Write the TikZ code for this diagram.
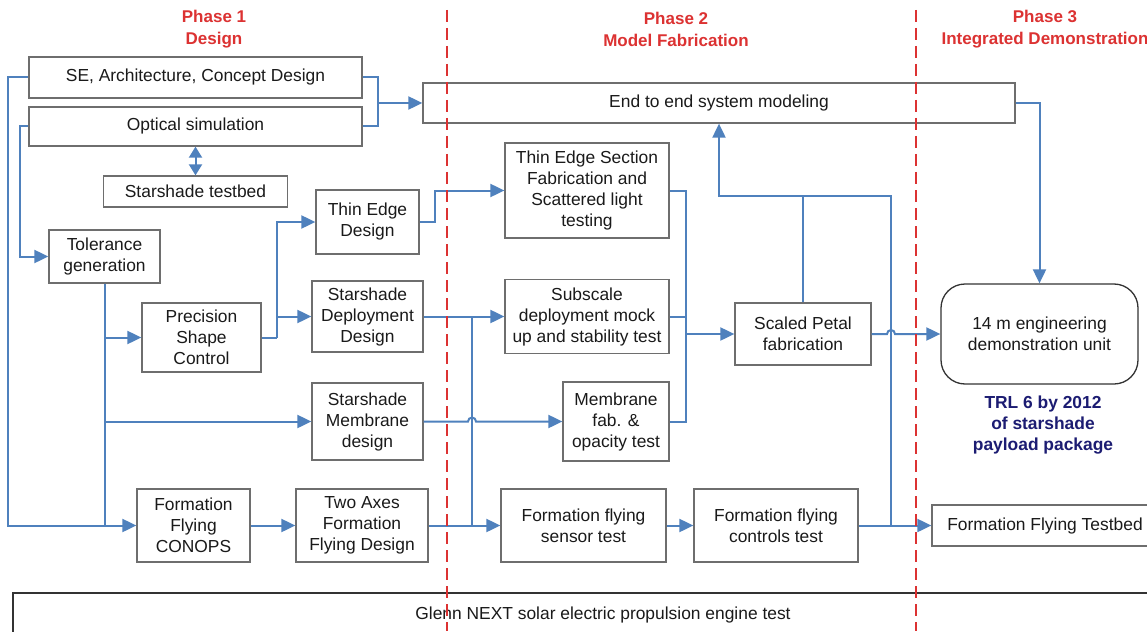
\documentclass[tikz,border=0pt]{standalone}
\usepackage{fontspec}
\setmainfont{Liberation Sans}
\usetikzlibrary{arrows.meta}
\definecolor{Tok}{HTML}{4F81BD}
\definecolor{Okvir}{HTML}{6E6E6E}
\definecolor{Faza}{HTML}{DC3232}
\definecolor{Cilj}{HTML}{1C1C72}
\definecolor{Tekst}{HTML}{1A1A1A}
\tikzset{
  kutija/.style   = {rectangle, draw=Okvir, line width=1.3pt, fill=white,
                     text=Tekst, align=center, inner sep=0pt},
  jedinica/.style = {kutija, rounded corners=24pt, draw=black!80},
  traka/.style    = {kutija, draw=black!80, line width=1.1pt},
  faza/.style     = {font=\fontsize{17}{22}\selectfont\bfseries, text=Faza, align=center},
  cilj/.style     = {font=\fontsize{17.4}{21}\selectfont\bfseries, text=Cilj, align=center},
  veza/.style     = {draw=Tok, line width=2pt},
  tok/.style      = {veza, -{Triangle[length=14pt, width=13pt]}},
  dvosmjer/.style = {veza, {Triangle[length=11pt, width=13pt]}-{Triangle[length=11pt, width=13pt]}},
  granica/.style  = {draw=Faza, line width=2pt, dash pattern=on 12pt off 6pt},
}

\begin{document}
\begin{tikzpicture}[font=\fontsize{17.4}{21}\selectfont, x=1pt, y=-1pt]
  \clip (0,0) rectangle (1147,631);
  \fill[white] (0,0) rectangle (1147,631);
  % --- faze ---
  \node[faza] at (214, 29)  (f1) {Phase 1\\Design};
  \node[faza] at (676, 29)  (f2) {Phase 2\\Model Fabrication};
  \node[faza] at (1045, 29) (f3) {Phase 3\\Integrated Demonstration};

  % --- faza 1, projektovanje ---
  \node[kutija, minimum width=333pt, minimum height=41pt] at (195.5, 77.5) (se)  {SE, Architecture, Concept Design};
  \node[kutija, minimum width=333pt, minimum height=39pt] at (195.5, 126.5) (opt) {Optical simulation};
  \node[kutija, minimum width=184pt, minimum height=31pt] at (195.5, 191.5) (tb)  {Starshade testbed};
  \node[kutija, minimum width=111pt, minimum height=53pt] at (104.5, 256.5) (tol) {Tolerance\\generation};
  \node[kutija, minimum width=103pt, minimum height=64pt] at (367.5, 222)   (ted) {Thin Edge\\Design};
  \node[kutija, minimum width=119pt, minimum height=69pt] at (201.5, 337.5) (psc) {Precision\\Shape\\Control};
  \node[kutija, minimum width=111pt, minimum height=71pt] at (367.5, 316.5) (dep) {Starshade\\Deployment\\Design};
  \node[kutija, minimum width=111pt, minimum height=77pt] at (367.5, 421.5) (mdes) {Starshade\\Membrane\\design};
  \node[kutija, minimum width=113pt, minimum height=73pt] at (193.5, 525.5) (conops) {Formation\\Flying\\CONOPS};
  \node[kutija, minimum width=132pt, minimum height=73pt] at (362, 525.5)   (ta)  {Two Axes\\Formation\\Flying Design};

  % --- faza 2, izrada modela ---
  \node[kutija, minimum width=592pt, minimum height=40pt] at (719, 103)   (e2e) {End to end system modeling};
  \node[kutija, minimum width=164pt, minimum height=95pt] at (587, 190.5) (tes) {Thin Edge Section\\Fabrication and\\Scattered light\\testing};
  \node[kutija, minimum width=164pt, minimum height=74pt] at (587, 316.5) (sub) {Subscale\\deployment mock\\up and stability test};
  \node[kutija, minimum width=106pt, minimum height=79pt] at (616, 421.5) (mfab) {Membrane\\fab. \&\\opacity test};
  \node[kutija, minimum width=165pt, minimum height=73pt] at (583.5, 525.5) (sen) {Formation flying\\sensor test};
  \node[kutija, minimum width=164pt, minimum height=73pt] at (776, 525.5)   (ctl) {Formation flying\\controls test};
  \node[kutija, minimum width=136pt, minimum height=62pt] at (803, 334)     (pet) {Scaled Petal\\fabrication};

  % --- faza 3, demonstracija ---
  \node[jedinica, minimum width=197pt, minimum height=100pt] at (1039.5, 334) (jed) {14 m engineering\\demonstration unit};
  \node[cilj] at (1043, 425) (trl) {TRL 6 by 2012\\of starshade\\payload package};
  \node[kutija, minimum width=226pt, minimum height=41pt] at (1045, 525.5) (fft) {Formation Flying Testbed};
  \node[traka, minimum width=1180pt, minimum height=44pt] at (603, 615) (glenn) {Glenn NEXT solar electric propulsion engine test};

  % --- spojevi ---
  \coordinate (sp1) at (377, 103);
  \coordinate (sp3) at (472, 316.5);
  \coordinate (sp4) at (685, 334);
  \coordinate (sp6) at (891, 525.5);

  \draw[tok]  (se.west) -- ++(-20,0) |- (conops.west);
  \draw[tok]  (opt.west) -- ++(-8,0) |- (tol.west);
  \draw[veza] (se.east) -- ++(15,0) |- (opt.east);
  \draw[tok]  (sp1) -- (e2e.west);
  \draw[dvosmjer] (opt.south) -- (tb.north);

  \draw[veza] (tol.south) -- (tol.south |- conops.west);
  \draw[tok]  (tol.south |- psc.west) -- (psc.west);
  \draw[tok]  (tol.south |- mdes.west) -- (mdes.west);
  \draw[tok]  (conops) -- (ta);

  \draw[veza] (psc.east) -- ++(15,0) coordinate (sp2);
  \draw[tok]  (sp2) |- (ted.west);
  \draw[tok]  (sp2) |- (dep.west);
  \draw[tok]  (ted.east) -- ++(15,0) |- (tes.west);
  \draw[tok]  (dep) -- (sub);
  \draw[veza] (sp3) -- (sp3 |- sen.west);
  \draw[tok]  (mdes.east) -- ([xshift=-4pt]sp3 |- mdes.east)
              arc[start angle=180, end angle=0, radius=4pt] -- (mfab.west);
  \draw[tok]  (ta) -- (sen);
  \draw[tok]  (sen) -- (ctl);

  \draw[veza] (tes.east) -- ++(16,0) |- (mfab.east);
  \draw[veza] (sub.east) -- (sub.east -| sp4);
  \draw[tok]  (sp4) -- (pet.west);

  \draw[veza] (pet.north) -- ++(0,-106) coordinate (sp5);
  \draw[tok]  (sp5) -| (e2e.south);
  \draw[veza] (sp5) -| (sp6);
  \draw[tok]  (ctl.east) -- (fft.west);
  \draw[tok]  (pet.east) -- ([xshift=-4pt]sp6 |- pet.east)
              arc[start angle=180, end angle=0, radius=4pt] -- (jed.west);
  \draw[tok]  (e2e.east) -| (jed.north);

  % --- granice faza ---
  \draw[granica] (447, 10) -- (447, 631);
  \draw[granica] (916, 10) -- (916, 631);
\end{tikzpicture}
\end{document}
